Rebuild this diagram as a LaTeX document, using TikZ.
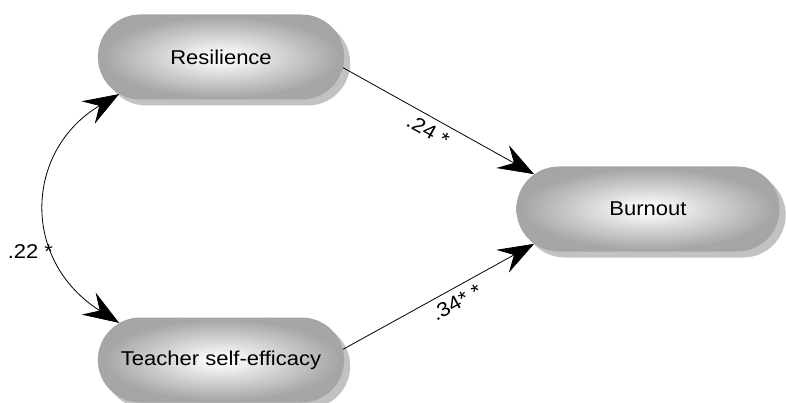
\documentclass[tikz,border=0pt]{standalone}
\usepackage{fontspec}
\setmainfont{Liberation Sans}[FakeStretch=1.1]
\usetikzlibrary{arrows.meta,shapes.misc,shadows}
\pgfdeclareradialshading{capsule}{\pgfpoint{0bp}{0bp}}{color(0bp)=(white); color(3bp)=(black!3); color(24bp)=(black!35); color(50bp)=(black!36)}
\tikzset{
  construct/.style={rounded rectangle, shading=capsule, minimum height=85pt,
    drop shadow={shadow xshift=6pt, shadow yshift=-6pt, fill=black!24, opacity=1},
    font=\fontsize{20}{24}\selectfont},
  tip/.tip={Stealth[length=36pt,width=26pt,inset=13pt]},
  effect/.style={-tip, line width=0.8pt},
  coef/.style={font=\fontsize{20}{24}\selectfont, inner sep=6pt}
}
\begin{document}
\begin{tikzpicture}[x=1pt,y=-1pt]
        \useasboundingbox (0,0) rectangle (786,403);

        % Constructs
        \node[construct, minimum width=253pt] (res) at (221,57) {Resilience};
        \node[construct, minimum width=270pt] (bur) at (648,209) {Burnout};
        \node[construct, minimum width=253pt] (tse) at (221,360) {Teacher self-efficacy};

        % Correlation
        \draw[tip-tip, line width=0.8pt]
          (res.200) .. controls (25,150) and (20,260) .. node[coef, pos=0.68, left, inner sep=2pt] {.22 *} (tse.160);

        % Paths to burnout
        \draw[effect] (res.-5) -- node[coef, pos=0.48, below, sloped] {.24 *} (bur.163);
        \draw[effect] (tse.5) -- node[coef, pos=0.56, below, sloped] {.34* *} (bur.197);
      \end{tikzpicture}
\end{document}
